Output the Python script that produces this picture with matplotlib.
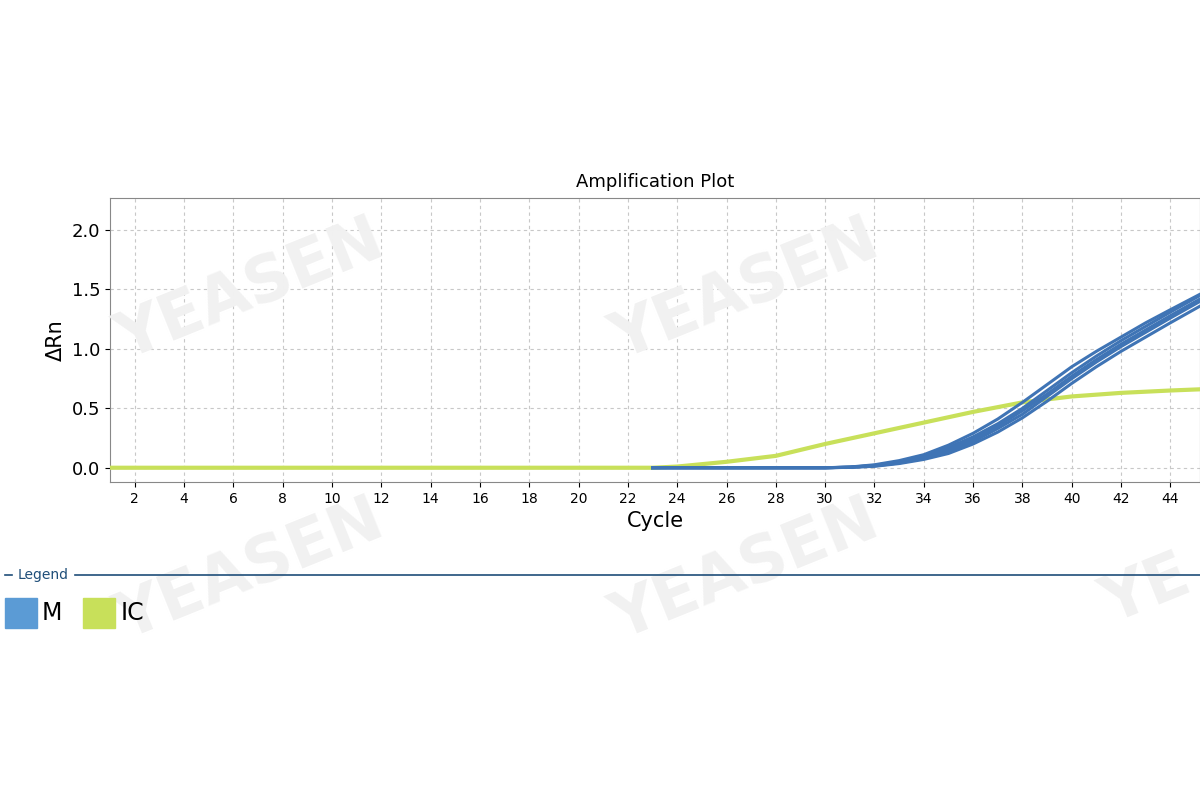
import matplotlib
matplotlib.use("Agg")
import matplotlib.pyplot as plt
from matplotlib.patches import Rectangle

cycles = [1, 23, 24, 26, 28, 30, 32, 34, 36, 38, 40, 42, 44, 45.2]
ic_vals = [0, 0.0, 0.01, 0.05, 0.10, 0.20, 0.29, 0.38, 0.47, 0.55, 0.60, 0.63, 0.65, 0.66]

m_cycles = [23, 30, 31, 32, 33, 34, 35, 36, 37, 38, 39, 40, 41, 42, 43, 44, 45.2]
m_reps = [
    [0, 0, 0.005, 0.02, 0.05, 0.10, 0.17, 0.26, 0.37, 0.50, 0.65, 0.80, 0.94, 1.07, 1.19, 1.31, 1.45],
    [0, 0, 0.004, 0.015, 0.04, 0.08, 0.14, 0.22, 0.33, 0.45, 0.60, 0.75, 0.89, 1.02, 1.14, 1.26, 1.40],
    [0, 0, 0.003, 0.012, 0.035, 0.07, 0.12, 0.20, 0.30, 0.42, 0.56, 0.71, 0.85, 0.98, 1.10, 1.22, 1.36],
    [0, 0, 0.006, 0.025, 0.06, 0.11, 0.19, 0.29, 0.41, 0.55, 0.70, 0.85, 0.98, 1.10, 1.22, 1.33, 1.46],
    [0, 0, 0.004, 0.018, 0.045, 0.09, 0.155, 0.24, 0.35, 0.48, 0.62, 0.77, 0.91, 1.04, 1.16, 1.28, 1.42],
]

blue = "#3f74b5"
green = "#c8e05a"

fig = plt.figure(figsize=(12, 8), dpi=100)
ax = fig.add_axes([110/1200, 1-482/800, 1090/1200, 284/800])
ax.plot(cycles, ic_vals, color=green, lw=3, zorder=3)
for r in m_reps:
    ax.plot(m_cycles, r, color=blue, lw=2.2, zorder=4)
ax.set_xlim(1, 45.2)
ax.set_ylim(-0.12, 2.27)
ax.set_xticks(range(2, 45, 2))
ax.set_yticks([0, 0.5, 1.0, 1.5, 2.0])
ax.set_yticklabels(["0.0", "0.5", "1.0", "1.5", "2.0"], fontsize=13)
ax.tick_params(axis="x", labelsize=10)
ax.grid(True, ls=(0, (3, 3)), color="#c8c8c8", lw=0.8)
for s in ax.spines.values():
    s.set_color("#888888")
ax.set_xlabel("Cycle", fontsize=15)
ax.set_ylabel("ΔRn", fontsize=15)
ax.set_title("Amplification Plot", fontsize=13, pad=8)

for (x, y) in [(250, 290), (745, 290), (250, 570), (745, 570)]:
    fig.text(x/1200, 1-y/800, "YEASEN", fontsize=46, fontweight="bold", color="#f1f1f1",
             rotation=22, ha="center", va="center", zorder=0)
fig.text(1.0, 1-590/800, "YE", fontsize=46, fontweight="bold", color="#f1f1f1",
         rotation=22, ha="right", va="center", zorder=0)

fig.add_artist(plt.Line2D([75/1200, 1], [1-575/800]*2, color="#1f4e79", lw=1.2))
fig.add_artist(plt.Line2D([5/1200, 12/1200], [1-575/800]*2, color="#1f4e79", lw=1.2))
fig.text(18/1200, 1-575/800, "Legend", fontsize=10, color="#1f4e79", va="center")
fig.add_artist(Rectangle((5/1200, 1-628/800), 32/1200, 30/800, color="#5b9bd5", transform=fig.transFigure))
fig.text(42/1200, 1-613/800, "M", fontsize=17, va="center")
fig.add_artist(Rectangle((83/1200, 1-628/800), 32/1200, 30/800, color=green, transform=fig.transFigure))
fig.text(121/1200, 1-613/800, "IC", fontsize=17, va="center")

fig.savefig("out.png", dpi=100)
